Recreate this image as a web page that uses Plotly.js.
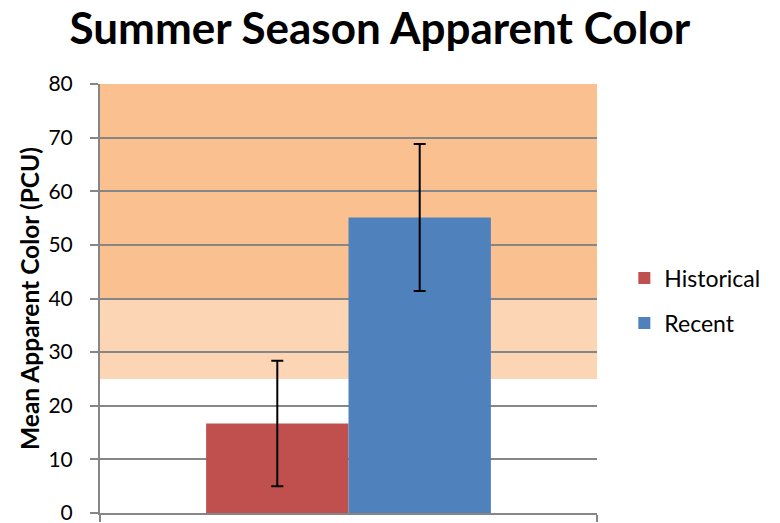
<!DOCTYPE html>
<html>
<head>
<meta charset="utf-8">
<script src="https://cdn.plot.ly/plotly-3.0.1.min.js"></script>
<style>html,body{margin:0;padding:0;background:#fff;}#chart{width:780px;height:523px;}</style>
</head>
<body>
<div id="chart"></div>
<script>
var seriesNames = ["Historical", "Recent"];
var seriesValues = [16.7, 55.1];
var seriesErrors = [11.7, 13.7];
var seriesColors = ["#C0504D", "#4F81BD"];
var bandLimits = [25, 40, 80];
var bandColors = ["#FCD5B5", "#FAC090"];
var yTicks = [0, 10, 20, 30, 40, 50, 60, 70, 80];

var FONT = "Lato, 'Open Sans', sans-serif";

var traces = seriesNames.map(function (name, i) {
  return {
    type: "bar",
    name: name,
    x: [0],
    y: [seriesValues[i]],
    legendgroup: name,
    marker: { color: seriesColors[i], line: { width: 0 } },
    error_y: { type: "data", array: [seriesErrors[i]], visible: true, color: "#000000", thickness: 2, width: 6 },
    hoverinfo: "none"
  };
});

var shapes = [];
for (var b = 0; b < bandColors.length; b++) {
  shapes.push({
    type: "rect", xref: "paper", yref: "y", layer: "below",
    x0: 0, x1: 1, y0: bandLimits[b], y1: bandLimits[b + 1],
    fillcolor: bandColors[b], line: { width: 0 }
  });
}

var layout = {
  width: 780, height: 523,
  margin: { l: 100, r: 183, t: 84, b: 10, pad: 0 },
  paper_bgcolor: "#ffffff",
  plot_bgcolor: "#ffffff",
  font: { family: FONT, color: "#000000", size: 20 },
  title: {
    text: "<b>Summer Season Apparent Color</b>",
    font: { family: FONT, size: 44, color: "#000000" },
    x: 0.487, xanchor: "center", yref: "container", y: 0.946, yanchor: "middle"
  },
  barmode: "group",
  bargap: 0.427,
  bargroupgap: 0,
  showlegend: true,
  legend: {
    x: 1.055, xanchor: "left", y: 0.495, yanchor: "middle",
    font: { family: FONT, size: 23, color: "#000000" },
    tracegroupgap: 12,
    itemclick: false
  },
  xaxis: {
    range: [-0.5, 0.5],
    tickmode: "array", tickvals: [-0.5, 0.5],
    showticklabels: false,
    ticks: "outside", ticklen: 7, tickcolor: "#868686", tickwidth: 2,
    showgrid: true, gridcolor: "#868686", gridwidth: 2,
    showline: true, linecolor: "#868686", linewidth: 2,
    zeroline: false, fixedrange: true
  },
  yaxis: {
    range: [0, 80],
    tickmode: "array", tickvals: yTicks,
    ticks: "outside", ticklen: 8, tickcolor: "#868686", tickwidth: 2,
    ticklabelstandoff: 13,
    ticklabeloverflow: "allow",
    showgrid: true, gridcolor: "#868686", gridwidth: 2,
    showline: true, linecolor: "#868686", linewidth: 2,
    zeroline: false,
    tickfont: { family: FONT, size: 21, color: "#000000" },
    title: {
      text: "<b>Mean Apparent Color (PCU)</b>",
      font: { family: FONT, size: 24.5, color: "#000000" },
      standoff: 2
    },
    fixedrange: true
  },
  shapes: shapes
};

Plotly.newPlot("chart", traces, layout, { displayModeBar: false, staticPlot: true });
</script>
</body>
</html>
